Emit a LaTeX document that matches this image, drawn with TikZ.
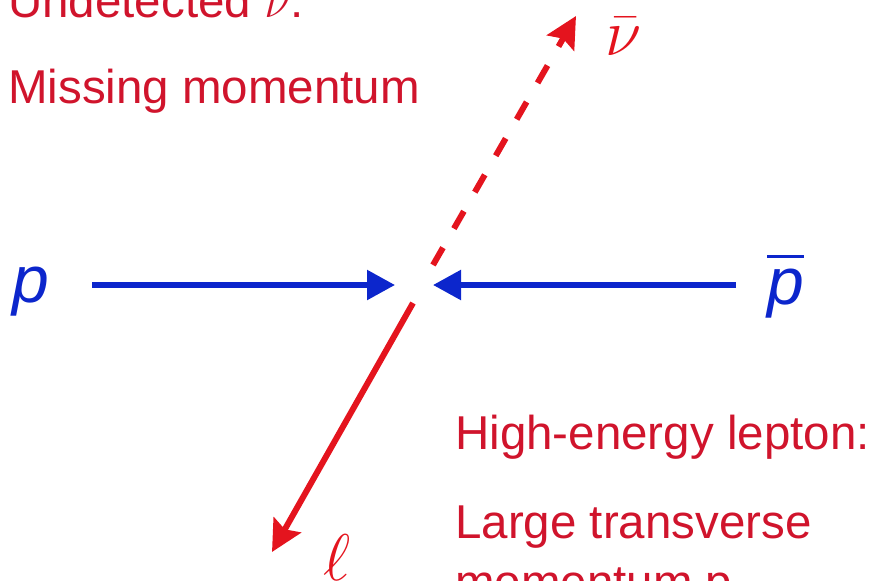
\documentclass[tikz,border=0pt]{standalone}
\usepackage{fix-cm}
\usepackage{fontspec}
\setmainfont{Liberation Sans}
\usetikzlibrary{arrows.meta}
\definecolor{noteRed}{HTML}{D0142C}
\definecolor{trackRed}{HTML}{E4141E}
\definecolor{beamBlue}{HTML}{0C26CC}

\begin{document}
\begin{tikzpicture}[x=1pt, y=-1pt,
  note/.style={noteRed, font=\fontsize{47.5}{56}\selectfont, anchor=base west, inner sep=0pt},
  beam/.style={beamBlue, line width=5.5pt, -{Triangle[length=28pt,width=29pt]}},
  track/.style={trackRed, line width=6pt, -{Stealth[length=31pt,width=31pt,inset=5pt]}},
  missing/.style={track, dash pattern=on 20pt off 22pt},
  beamlbl/.style={beamBlue, font=\fontsize{66}{70}\selectfont\itshape, anchor=base, inner sep=0pt},
  partlbl/.style={trackRed, font=\fontsize{66}{70}\selectfont, anchor=base, inner sep=0pt}]
  \useasboundingbox (0,0) rectangle (876,581);
  % texts
  \node[note] (undet) at (8,17) {Undetected $\nu$:};
  \node[note] (miss) at (8,103) {Missing momentum};
  \node[note] (hilep) at (455,449) {High-energy lepton:};
  \node[note] (large) at (455,538) {Large transverse};
  \node[note] (ptlbl) at (455,598) {momentum p\textsubscript{T}};
  % beams
  \node[beamlbl] (p) at (31,302) {p};
  \node[beamlbl] (pbar) at (786,304) {p\llap{\rule[0.69em]{0.56em}{0.06em}}};
  \coordinate (pstart) at (92,285);
  \coordinate (pbstart) at (736,285);
  \coordinate (vtxL) at (395,285);
  \coordinate (vtxR) at (433,285);
  \draw[beam] (pstart) -- (vtxL);
  \draw[beam] (pbstart) -- (vtxR);
  % lepton and neutrino
  \coordinate (lepBeg) at (413,303);
  \coordinate (lepEnd) at (272,552);
  \coordinate (nuBeg) at (433,265);
  \coordinate (nuEnd) at (576,16);
  \draw[track] (lepBeg) -- (lepEnd);
  \draw[missing] (nuBeg) -- (nuEnd);
  \node[partlbl] (nu) at (624,55) {$\bar\nu$};
  \node[partlbl] (lep) at (337,580) {$\ell$};
\end{tikzpicture}
\end{document}
